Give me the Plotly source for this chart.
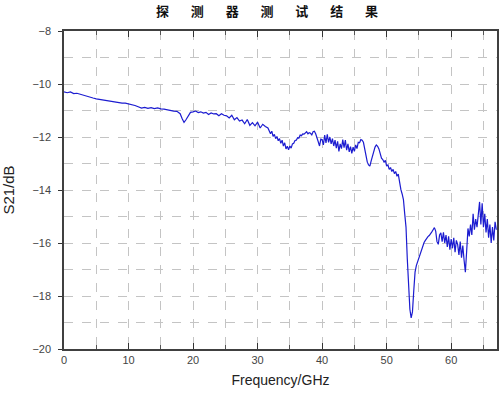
import plotly.graph_objects as go

title_text = "探　   测　   器　   测　   试　   结　   果"
x_title = "Frequency/GHz"
y_title = "S21/dB"

freq = [
    0, 0.5, 1, 1.5, 2, 2.5, 3, 3.5, 4, 4.5, 5, 5.5, 6, 6.5, 7, 7.5, 8, 8.5, 9, 9.5,
    10, 10.5, 11, 11.5, 12, 12.5, 13, 13.5, 14, 14.5, 15, 15.5, 16, 16.5, 17,
    17.5, 18.0, 18.3, 18.6, 18.9, 19.2, 19.6, 20.0,
    20.4, 20.8, 21.2, 21.6, 22.0, 22.4, 22.8, 23.2, 23.6, 24.0, 24.4, 24.8, 25.2, 25.6,
    26.0, 26.4, 26.8, 27.2, 27.6, 28.0, 28.4, 28.8, 29.2, 29.6, 30.0, 30.4, 30.8, 31.2,
    31.6, 32.0,
    32.2, 32.4, 32.6, 32.8, 33.0, 33.2, 33.4, 33.6, 33.8, 34.0, 34.2, 34.4, 34.6, 34.8,
    35.0, 35.2, 35.4, 35.6, 35.8, 36.0, 36.2, 36.4, 36.6, 36.8, 37.0, 37.2, 37.4, 37.6,
    37.8, 38.0, 38.2, 38.4, 38.6, 38.8, 39.0, 39.2, 39.4, 39.6, 39.8, 40.0, 40.2, 40.4,
    40.6, 40.8, 41.0, 41.2, 41.4, 41.6, 41.8, 42.0, 42.2, 42.4, 42.6, 42.8, 43.0, 43.2,
    43.4, 43.6, 43.8, 44.0, 44.2, 44.4, 44.6, 44.8, 45.0, 45.2, 45.4, 45.6, 45.8, 46.0,
    46.2, 46.4, 46.6, 46.8, 47.0, 47.2, 47.4, 47.6, 47.8, 48.0, 48.2, 48.4, 48.6, 48.8,
    49.0, 49.2, 49.4, 49.6, 49.8, 50.0, 50.2, 50.4, 50.6, 50.8, 51.0, 51.2, 51.4, 51.6,
    51.8, 52.0, 52.2, 52.4, 52.6, 52.8, 53.0, 53.2, 53.4, 53.6, 53.8, 54.0, 54.2, 54.4,
    54.6, 54.8, 55.0, 55.2, 55.4, 55.6, 55.8, 56.0, 56.2, 56.4, 56.6, 56.8, 57.0, 57.2,
    57.4, 57.6, 57.8, 58.0, 58.2, 58.4, 58.6, 58.8, 59.0, 59.2, 59.4, 59.6, 59.8, 60.0,
    60.2, 60.4, 60.6, 60.8, 61.0, 61.2, 61.4, 61.6, 61.8, 62.0, 62.2, 62.4, 62.6, 62.8,
    63.0, 63.2, 63.4, 63.6, 63.8, 64.0, 64.2, 64.4, 64.6, 64.8, 65.0, 65.2, 65.4, 65.6,
    65.8, 66.0, 66.2, 66.4, 66.6, 66.8, 67.0,
]

s21 = [
    -10.30, -10.33, -10.30, -10.36, -10.35, -10.39, -10.42, -10.46, -10.50, -10.53,
    -10.56, -10.58, -10.62, -10.63, -10.66, -10.66, -10.69, -10.70, -10.72, -10.72,
    -10.75, -10.76, -10.81, -10.86, -10.91, -10.88, -10.92, -10.89, -10.93, -10.90,
    -10.94, -10.95, -10.98, -10.99, -11.02,
    -11.03, -11.12, -11.30, -11.45, -11.35, -11.22, -11.07, -11.05,
    -11.02, -11.08, -11.05, -11.10, -11.07, -11.15, -11.09, -11.13, -11.12, -11.20,
    -11.12, -11.18, -11.20, -11.28, -11.18, -11.35, -11.27, -11.40, -11.36, -11.50,
    -11.34, -11.56, -11.46, -11.58, -11.44, -11.66, -11.52, -11.60, -11.66, -11.88,
    -11.78, -11.98, -11.90, -12.06, -11.98, -12.14, -12.06, -12.24, -12.12, -12.34,
    -12.22, -12.45, -12.35, -12.48, -12.34, -12.42, -12.26, -12.24, -12.13, -12.12,
    -12.03, -12.04, -11.93, -11.95, -11.88, -11.89, -11.85, -11.80, -11.88, -11.84,
    -11.86, -11.92, -11.80, -11.78, -11.88, -12.08, -12.18, -12.34, -12.08, -12.10,
    -12.30, -11.93, -12.22, -11.90, -12.20, -12.00, -12.26, -12.06, -12.34, -12.12,
    -12.42, -12.16, -12.54, -12.26, -12.44, -12.10, -12.40, -12.12, -12.50, -12.26,
    -12.56, -12.36, -12.62, -12.38, -12.54, -12.30, -12.44, -12.20, -12.22, -12.10,
    -12.12, -12.20, -12.50, -12.75, -12.95, -13.05, -13.10, -12.90, -12.70, -12.50,
    -12.38, -12.30, -12.35, -12.45, -12.62, -12.80, -12.85, -12.95, -12.88, -13.10,
    -13.05, -13.22, -13.15, -13.30, -13.22, -13.38, -13.30, -13.48, -13.40, -13.80,
    -13.98, -14.15, -14.36, -14.90, -15.40, -16.60, -17.80, -18.50, -18.83, -18.60,
    -17.80, -17.10, -16.85, -16.70, -16.50, -16.35, -16.20, -16.10, -15.98, -15.90,
    -15.82, -15.76, -15.72, -15.62, -15.58, -15.50, -15.42, -15.55, -15.95, -16.05,
    -15.70, -15.62, -15.95, -15.60, -16.00, -15.70, -16.15, -15.75, -16.25, -15.85,
    -16.20, -15.80, -16.35, -15.90, -16.05, -16.45, -15.95, -16.55, -16.10, -16.65,
    -17.10, -16.30, -15.45, -15.75, -15.30, -15.70, -14.90, -15.50, -15.10, -15.40,
    -14.80, -14.45, -15.30, -14.50, -15.40, -14.90, -15.60, -15.10, -15.80, -15.30,
    -16.00, -15.40, -15.90, -15.20, -15.50,
]

x_range = [0, 67.1]
y_range = [-20, -8]

fig = go.Figure()
fig.add_trace(go.Scatter(
    x=freq, y=s21, mode="lines",
    line=dict(color="#1c1cd0", width=1.2),
    showlegend=False,
))

grid_style = dict(showgrid=True, gridcolor="#c4c4c4", griddash="dash", gridwidth=1)

fig.update_layout(
    width=500, height=398,
    margin=dict(l=64, r=3, t=31, b=49),
    paper_bgcolor="white", plot_bgcolor="white",
    title=dict(
        text=title_text, x=0.534, xanchor="center", y=0.971, yanchor="middle",
        font=dict(family="Noto Sans CJK SC", size=13, color="#111111", weight="bold"),
    ),
    font=dict(family="Liberation Sans, Arial", color="#333333"),
)

fig.update_xaxes(
    range=x_range, dtick=10, tick0=0, automargin=False,
    ticks="inside", ticklen=6, tickcolor="#333333",
    showline=True, linecolor="#404040", linewidth=1.5, mirror="ticks",
    tickfont=dict(size=11, color="#444444"),
    title=dict(text=x_title, font=dict(size=14, color="#222222"), standoff=10),
    zeroline=False,
    minor=dict(dtick=5, ticks="inside", ticklen=4, tickcolor="#555555", **grid_style),
    **grid_style,
)
fig.update_yaxes(
    range=y_range, dtick=2, tick0=-20, automargin=False,
    ticks="outside", ticklen=4, tickcolor="#333333",
    showline=True, linecolor="#404040", linewidth=1.5, mirror=True,
    tickfont=dict(size=11, color="#444444"), ticklabelstandoff=5,
    title=dict(text=y_title, font=dict(size=15, color="#222222"), standoff=18),
    zeroline=False,
    minor=dict(dtick=1, **grid_style),
    **grid_style,
)

fig.write_html(
    "out.html",
    config={"displayModeBar": False},
    post_script="document.body.style.margin='0px';",
)
